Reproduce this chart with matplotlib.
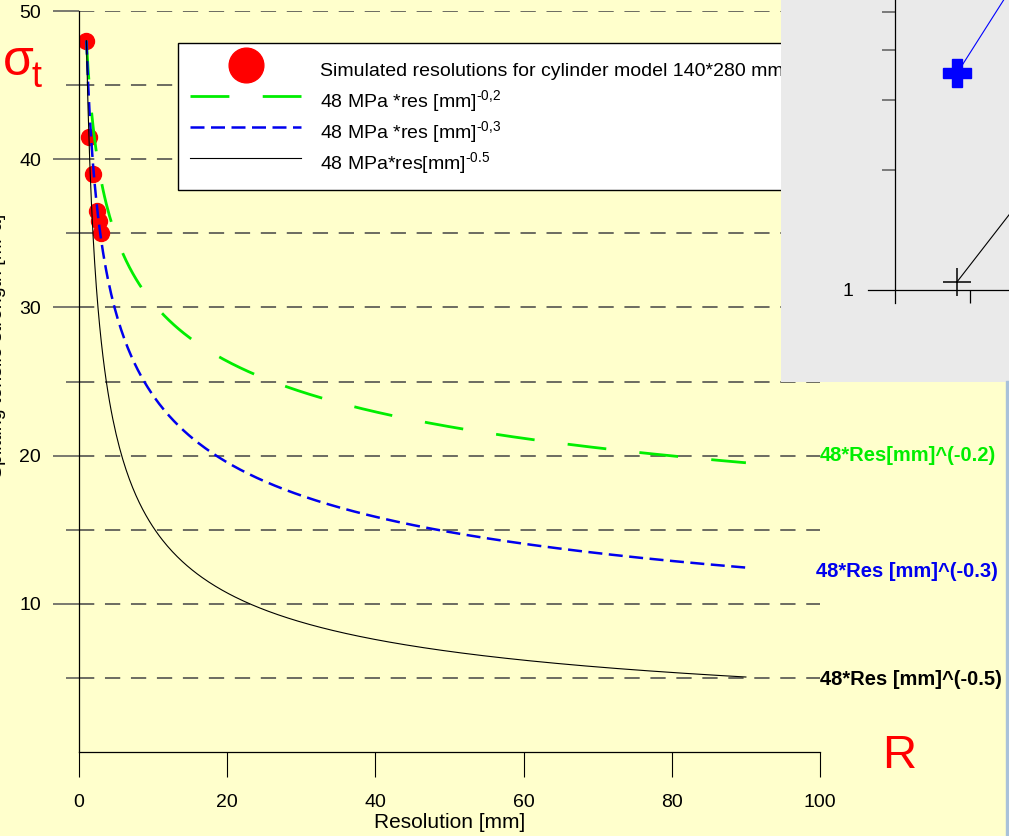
import numpy as np
import matplotlib.pyplot as plt
from matplotlib.lines import Line2D
from matplotlib.patches import Rectangle
from matplotlib.ticker import NullFormatter

plt.rcParams['font.family'] = ['Liberation Sans', 'DejaVu Sans']
plt.rcParams['mathtext.fontset'] = 'custom'
plt.rcParams['mathtext.rm'] = 'Liberation Sans'
plt.rcParams['mathtext.it'] = 'Liberation Sans:italic'
plt.rcParams['mathtext.bf'] = 'Liberation Sans:bold'

# simulated points (cylinder model 140*280 mm)
sim_res = [1.0, 1.4, 1.9, 2.4, 2.7, 3.0]
sim_sig = [48.0, 41.5, 39.0, 36.5, 35.8, 35.0]

# power laws  sigma = 48 * res^k
coef = 48
exps = [-0.2, -0.3, -0.5]
res_min, res_max = 1, 90
curve_colors = ['#00EE00', '#0000EE', 'black']
curve_labels = [r'48 MPa *res [mm]$^{\text{-0,2}}$',
                r'48 MPa *res [mm]$^{\text{-0,3}}$',
                r'48 MPa*res[mm]$^{\text{-0.5}}$']
end_labels = ['48*Res[mm]^(-0.2)', '48*Res [mm]^(-0.3)', '48*Res [mm]^(-0.5)']
end_x = [100.0, 99.5, 100.0]
end_y = [20.0, 12.2, 4.9]

# inset (partly hidden)
ins_x = [8.3, 20]
ins_black = [1.05, 2.02]
ins_blue = [3.51, 7.8]

W, H = 1009, 836
fig = plt.figure(figsize=(W / 100, H / 100), dpi=100)
fig.patch.set_facecolor('#FFFFCC')

ax = fig.add_axes([79 / W, (H - 752) / H, 741 / W, 741 / H])
ax.set_facecolor('none')
ax.set_xlim(0, 100)
ax.set_ylim(0, 50)
ax.set_axisbelow(True)
for s in ['top', 'right']:
    ax.spines[s].set_visible(False)
for s in ['left', 'bottom']:
    ax.spines[s].set_linewidth(0.9)

ax.set_xticks(range(0, 101, 20))
ax.tick_params(axis='x', direction='out', length=18, width=0.8, pad=12, labelsize=14)
ax.set_yticks([10, 20, 30, 40, 50])
ax.set_yticks([5, 15, 25, 35, 45], minor=True)
ax.tick_params(axis='y', which='major', direction='out', length=18.7, width=1.1,
               color='#555555', pad=8.5, labelsize=14)
ax.tick_params(axis='y', which='minor', direction='out', length=9.4, width=1.1, color='#555555')
ax.grid(axis='y', which='both', color='#444444', lw=1.1, linestyle=(0, (10, 7)))
ax.set_xlabel('Resolution [mm]', fontsize=15, labelpad=2)

# dots under the curves
ax.plot(sim_res, sim_sig, 'o', ms=11.5, color='red', mec='red', zorder=2)

xx = np.linspace(res_min, res_max, 400)
styles = [dict(lw=2.0, ls=(0, (14, 12))),
          dict(lw=1.8, ls=(0, (5.6, 2.6))),
          dict(lw=0.8, ls='-')]
lines = []
for k, c, lab, st in zip(exps, curve_colors, curve_labels, styles):
    ln, = ax.plot(xx, coef * xx ** k, color=c, label=lab, zorder=3, **st)
    lines.append(ln)

for s, c, x, y in zip(end_labels, curve_colors, end_x, end_y):
    ax.text(x, y, s, color=c, fontsize=14.5, fontweight='bold', va='center', ha='left',
            clip_on=False)

h_dot = Line2D([], [], ls='none', marker='o', ms=25, color='red')
leg = ax.legend([h_dot] + lines,
                ['Simulated resolutions for cylinder model 140*280 mm'] + curve_labels,
                loc='upper left', bbox_to_anchor=(178 / W, 1 - 43 / H),
                bbox_transform=fig.transFigure, borderaxespad=0, borderpad=0.6,
                handlelength=5.75, handleheight=2.07, handletextpad=0.95,
                labelspacing=0.0, fontsize=14,
                fancybox=False, framealpha=1, facecolor='white', edgecolor='black')
leg.get_frame().set_linewidth(1)

fig.text(3 / W, 1 - 75 / H, 'σ', color='red', fontsize=36, va='baseline', ha='left')
fig.text(32 / W, 1 - 87 / H, 't', color='red', fontsize=26, va='baseline', ha='left')
fig.text(882 / W, 1 - 768 / H, 'R', color='red', fontsize=34, va='baseline', ha='left')
fig.text(6 / W, 1 - 346 / H, 'Splitting tensile strength [MPa]', rotation=90,
         fontsize=14, ha='right', va='center')

# inset on top right
ins = fig.add_axes([781 / W, 1 - 381.7 / H, 228 / W, 381.7 / H], zorder=5)
ins.set_facecolor('#EAEAEA')
ins.set_yscale('log')
ins.set_xlim(-15.2, 15.2)
ins.set_ylim(10 ** (-91.7 / 398), 10 ** (290 / 398))
for s in ['top', 'right']:
    ins.spines[s].set_visible(False)
ins.spines['left'].set_position(('data', 0))
ins.spines['left'].set_bounds(10 ** (-13 / 398), 10 ** (290 / 398))
ins.spines['bottom'].set_position(('data', 1))
ins.spines['bottom'].set_bounds(-3.6, 15.2)
for s in ['left', 'bottom']:
    ins.spines[s].set_linewidth(0.9)
ins.set_yticks([1], ['1'])
ins.set_yticks([2, 3, 4, 5], minor=True)
ins.yaxis.set_minor_formatter(NullFormatter())
ins.tick_params(axis='y', which='major', length=0, pad=30, labelsize=14)
ins.tick_params(axis='y', which='minor', length=9.4, width=1.2, color='#666666')
ins.set_xticks([10])
ins.tick_params(axis='x', length=9.4, width=0.9, labelbottom=False)
ins.tick_params(axis='x', which='minor', length=0)

ins.plot(ins_x, ins_black, color='black', lw=0.8)
ins.plot(ins_x[:1], ins_black[:1], ls='none', marker='+', ms=20, mew=1.1, color='black')
ins.plot(ins_x, ins_blue, color='blue', lw=0.8)
ins.plot(ins_x[:1], ins_blue[:1], ls='none', marker='P', ms=20, color='blue', mec='blue')

fig.patches.append(Rectangle((1006 / W, 0), 3 / W, 1 - 381 / H, transform=fig.transFigure,
                             color='#A9C2DA', zorder=6))

fig.savefig('out.png', dpi=100, facecolor=fig.get_facecolor())
